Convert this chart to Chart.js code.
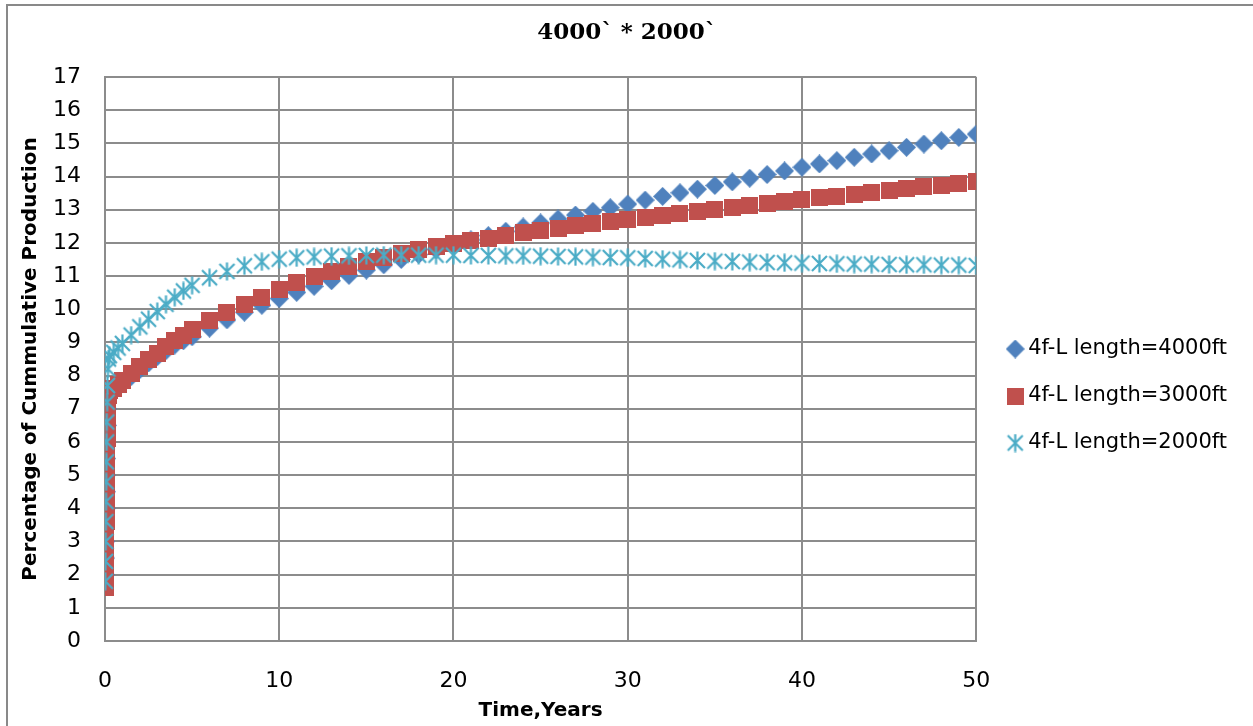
<!DOCTYPE html>
<html>
<head>
<meta charset="utf-8">
<title>4000` * 2000`</title>
<script src="https://cdn.jsdelivr.net/npm/chart.js@4.4.0/dist/chart.umd.min.js"></script>
<style>
    html, body { margin: 0; padding: 0; background: #fff; }
</style>
</head>
<body>
<canvas id="prodChart" width="1253" height="726"></canvas>
<script>
// time in years (dense at the start, then yearly)
var years = [0.02, 0.03, 0.04, 0.05, 0.06, 0.07, 0.08, 0.09, 0.1, 0.12, 0.14, 0.17, 0.2,
    0.25, 0.5, 0.75, 1, 1.5, 2, 2.5, 3, 3.5, 4, 4.5,
    5, 6, 7, 8, 9, 10, 11, 12, 13, 14, 15, 16, 17, 18, 19, 20,
    21, 22, 23, 24, 25, 26, 27, 28, 29, 30, 31, 32, 33, 34, 35,
    36, 37, 38, 39, 40, 41, 42, 43, 44, 45, 46, 47, 48, 49, 50];

var len4000 = [2.0, 2.5, 3.0, 3.5, 4.0, 4.5, 5.0, 5.5, 6.0, 6.5, 7.0, 7.25, 7.4,
    7.5, 7.56, 7.65, 7.77, 7.97, 8.18, 8.38, 8.57, 8.75, 8.92, 9.05,
    9.17, 9.43, 9.68, 9.91, 10.12, 10.32, 10.51, 10.69, 10.86, 11.02, 11.18, 11.34, 11.5, 11.65, 11.8, 11.95,
    12.09, 12.22, 12.35, 12.48, 12.6, 12.72, 12.84, 12.95, 13.06, 13.17, 13.29, 13.4, 13.51, 13.62, 13.73,
    13.84, 13.95, 14.06, 14.17, 14.28, 14.38, 14.48, 14.58, 14.68, 14.78, 14.88, 14.98, 15.08, 15.18, 15.28];

var len3000 = [1.6, 2.1, 2.6, 3.1, 3.6, 4.1, 4.6, 5.1, 5.6, 6.1, 6.6, 7.05, 7.4,
    7.55, 7.62, 7.72, 7.85, 8.05, 8.27, 8.48, 8.68, 8.87, 9.05, 9.22,
    9.38, 9.65, 9.9, 10.13, 10.36, 10.58, 10.8, 10.98, 11.14, 11.29, 11.43, 11.56, 11.68, 11.79, 11.88, 11.97,
    12.06, 12.14, 12.22, 12.3, 12.37, 12.44, 12.51, 12.58, 12.64, 12.7, 12.76, 12.82, 12.88, 12.94, 13.0,
    13.06, 13.12, 13.18, 13.24, 13.3, 13.36, 13.41, 13.47, 13.52, 13.58, 13.63, 13.69, 13.74, 13.8, 13.85];

var len2000 = [1.8, 2.4, 3.0, 3.6, 4.2, 4.8, 5.4, 6.0, 6.6, 7.2, 7.7, 8.2, 8.5,
    8.6, 8.7, 8.83, 8.97, 9.22, 9.47, 9.7, 9.93, 10.15, 10.36, 10.55,
    10.72, 10.95, 11.14, 11.31, 11.43, 11.51, 11.55, 11.58, 11.6, 11.61, 11.62, 11.63, 11.63, 11.63, 11.63, 11.63,
    11.62, 11.62, 11.61, 11.61, 11.6, 11.59, 11.58, 11.57, 11.56, 11.55, 11.53, 11.51, 11.49, 11.47, 11.45,
    11.44, 11.42, 11.41, 11.4, 11.39, 11.38, 11.37, 11.36, 11.36, 11.35, 11.34, 11.34, 11.33, 11.33, 11.32];

var seriesNames = ["4f-L length=4000ft", "4f-L length=3000ft", "4f-L length=2000ft"];

function toPoints(vals) {
    return vals.map(function (v, i) { return { x: years[i], y: v }; });
}

// excel style markers
function marker(kind, color) {
    var c = document.createElement('canvas');
    var s = kind === 'square' ? 17 : 19;
    c.width = s; c.height = s;
    var g = c.getContext('2d');
    g.fillStyle = color;
    g.strokeStyle = color;
    if (kind === 'diamond') {
        g.beginPath();
        g.moveTo(9.5, 0); g.lineTo(19, 9.5); g.lineTo(9.5, 19); g.lineTo(0, 9.5);
        g.closePath();
        g.fill();
    } else if (kind === 'square') {
        g.fillRect(0, 0, 17, 17);
    } else {
        g.lineWidth = 2.2;
        g.beginPath();
        g.moveTo(2, 2); g.lineTo(17, 17);
        g.moveTo(17, 2); g.lineTo(2, 17);
        g.moveTo(9.5, 0.5); g.lineTo(9.5, 18.5);
        g.stroke();
    }
    return c;
}

var frame = {
    id: 'frame',
    beforeDraw: function (chart) {
        var ctx = chart.ctx;
        ctx.save();
        ctx.strokeStyle = '#898989';
        ctx.lineWidth = 2;
        ctx.beginPath();
        ctx.moveTo(7, 726); ctx.lineTo(7, 5); ctx.lineTo(1253, 5);
        ctx.stroke();
        ctx.restore();
    }
};

// nudge legend and title to where excel put them
var boxShift = {
    id: 'boxShift',
    afterLayout: function (chart) {
        var l = chart.legend;
        l.left += 10.5; l.right += 10.5;
        l.top += 33; l.bottom += 33;
        var t = chart.titleBlock;
        t.left += 13.5; t.right += 13.5;
    }
};

var gridColor = '#8c8c8c';
var tickFont = { family: 'DejaVu Sans', size: 22 };
var titleFont = { family: 'DejaVu Sans', size: 20, weight: 'bold' };

var chartData = {
    datasets: [
        {
            label: seriesNames[0],
            data: toPoints(len4000),
            pointStyle: marker('diamond', '#4F81BD'),
            backgroundColor: '#4F81BD',
            borderColor: '#4F81BD',
            showLine: false,
            order: 3
        },
        {
            label: seriesNames[1],
            data: toPoints(len3000),
            pointStyle: marker('square', '#C0504D'),
            backgroundColor: '#C0504D',
            borderColor: '#C0504D',
            showLine: false,
            order: 2
        },
        {
            label: seriesNames[2],
            data: toPoints(len2000),
            pointStyle: marker('star', '#4BACC6'),
            backgroundColor: '#4BACC6',
            borderColor: '#4BACC6',
            showLine: false,
            order: 1
        }
    ]
};

var chartOptions = {
    responsive: false,
    animation: false,
    layout: { padding: { left: 0, right: 26.5, top: 0, bottom: 0 } },
    plugins: {
        title: {
            display: true,
            text: '4000` * 2000`',
            color: '#000',
            font: { family: 'DejaVu Serif', size: 23, weight: 'bold' },
            padding: { top: 19, bottom: 30.4 }
        },
        legend: {
            position: 'right',
            labels: {
                usePointStyle: true,
                boxWidth: 5,
                boxHeight: 5,
                padding: 26,
                color: '#000',
                font: { family: 'DejaVu Sans', size: 21 },
                sort: function (a, b) { return a.datasetIndex - b.datasetIndex; }
            }
        },
        tooltip: { enabled: false }
    },
    scales: {
        x: {
            type: 'linear',
            min: 0,
            max: 50,
            ticks: { stepSize: 10, padding: 27, color: '#000', font: tickFont },
            grid: { color: gridColor, lineWidth: 2, drawTicks: false },
            border: { color: gridColor, width: 2 },
            title: { display: true, text: 'Time,Years', color: '#000', font: titleFont, padding: { top: 0, bottom: 3 } },
            afterFit: function (s) { s.height = 85; }
        },
        y: {
            min: 0,
            max: 17,
            ticks: { stepSize: 1, padding: 24, color: '#000', font: tickFont },
            grid: { color: gridColor, lineWidth: 2, drawTicks: false },
            border: { color: gridColor, width: 2 },
            title: { display: true, text: 'Percentage of Cummulative Production', color: '#000', font: titleFont, padding: { top: 19, bottom: 0 } },
            afterFit: function (s) { s.width = 105; }
        }
    }
};

var ctx = document.getElementById('prodChart').getContext('2d');
new Chart(ctx, { type: 'scatter', data: chartData, options: chartOptions, plugins: [frame, boxShift] });
</script>
</body>
</html>
